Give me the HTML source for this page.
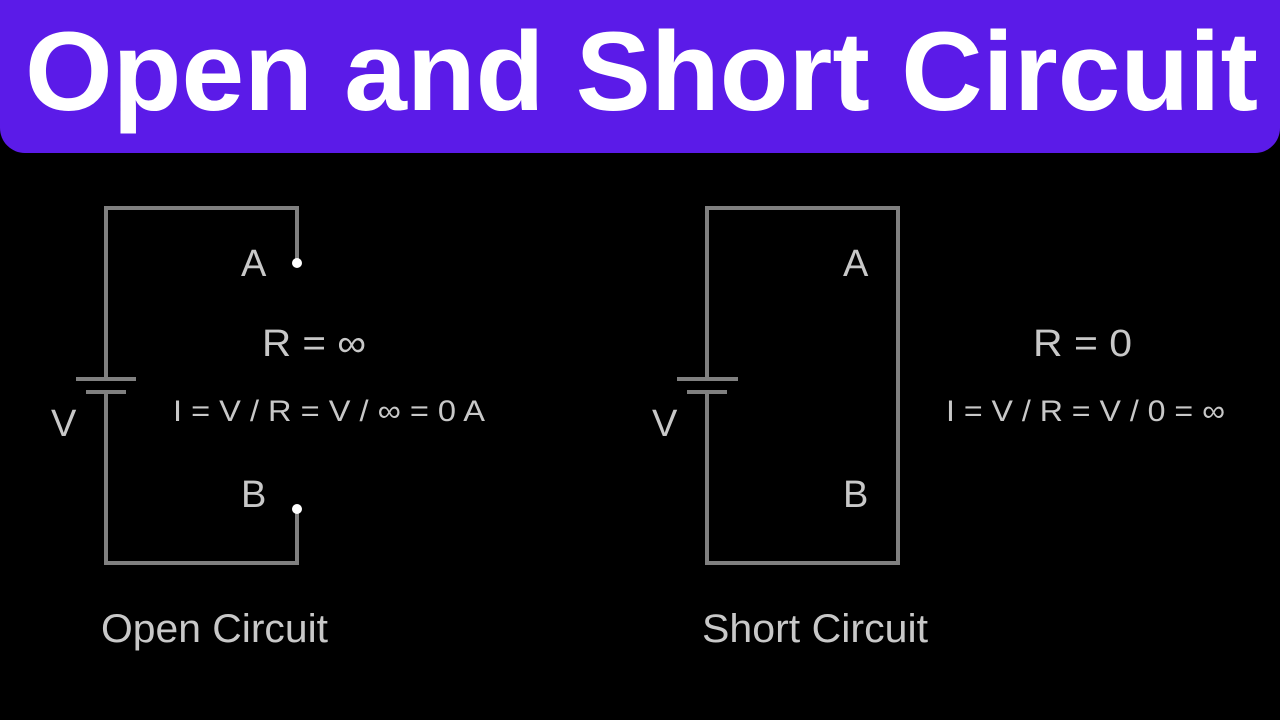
<!DOCTYPE html>
<html><head><meta charset="utf-8"><style>
html,body{margin:0;padding:0;background:#000;width:1280px;height:720px;overflow:hidden}
</style></head><body>
<svg width="1280" height="720" viewBox="0 0 1280 720" xmlns="http://www.w3.org/2000/svg">
<rect width="1280" height="720" fill="#000"/>
<path d="M0 0 H1280 V128 A25 25 0 0 1 1255 153 H25 A25 25 0 0 1 0 128 Z" fill="#5b1be8"/>
<text x="25" y="110" font-family="Liberation Sans, sans-serif" font-weight="bold" font-size="112" fill="#fff" textLength="1233" lengthAdjust="spacingAndGlyphs">Open and Short Circuit</text>
<g stroke="#808080" stroke-width="4" fill="none" stroke-linecap="square">
<path d="M297 263 V208 H106 V379"/>
<path d="M106 392 V563 H297 V509"/>
<line x1="78" y1="379" x2="134" y2="379"/>
<line x1="88" y1="392" x2="124" y2="392"/>
<path d="M707 379 V208 H898 V563 H707 V392"/>
<line x1="679" y1="379" x2="736" y2="379"/>
<line x1="689" y1="392" x2="725" y2="392"/>
</g>
<circle cx="297" cy="263" r="5" fill="#fff"/>
<circle cx="297" cy="509" r="5" fill="#fff"/>
<g font-family="Liberation Sans, sans-serif" fill="#c8c8c8">
<text x="241" y="276" font-size="38">A</text>
<text x="241" y="507" font-size="38">B</text>
<text x="51" y="436" font-size="38">V</text>
<text x="262" y="356" font-size="38" textLength="104" lengthAdjust="spacingAndGlyphs">R = ∞</text>
<text x="173" y="421" font-size="30" textLength="312" lengthAdjust="spacingAndGlyphs">I = V / R = V / ∞ = 0 A</text>
<text x="101" y="642" font-size="40" textLength="227" lengthAdjust="spacingAndGlyphs">Open Circuit</text>
<text x="843" y="276" font-size="38">A</text>
<text x="843" y="507" font-size="38">B</text>
<text x="652" y="436" font-size="38">V</text>
<text x="1033" y="356" font-size="38" textLength="99" lengthAdjust="spacingAndGlyphs">R = 0</text>
<text x="946" y="421" font-size="30" textLength="279" lengthAdjust="spacingAndGlyphs">I = V / R = V / 0 = ∞</text>
<text x="702" y="642" font-size="40" textLength="226" lengthAdjust="spacingAndGlyphs">Short Circuit</text>
</g>
</svg>
</body></html>
